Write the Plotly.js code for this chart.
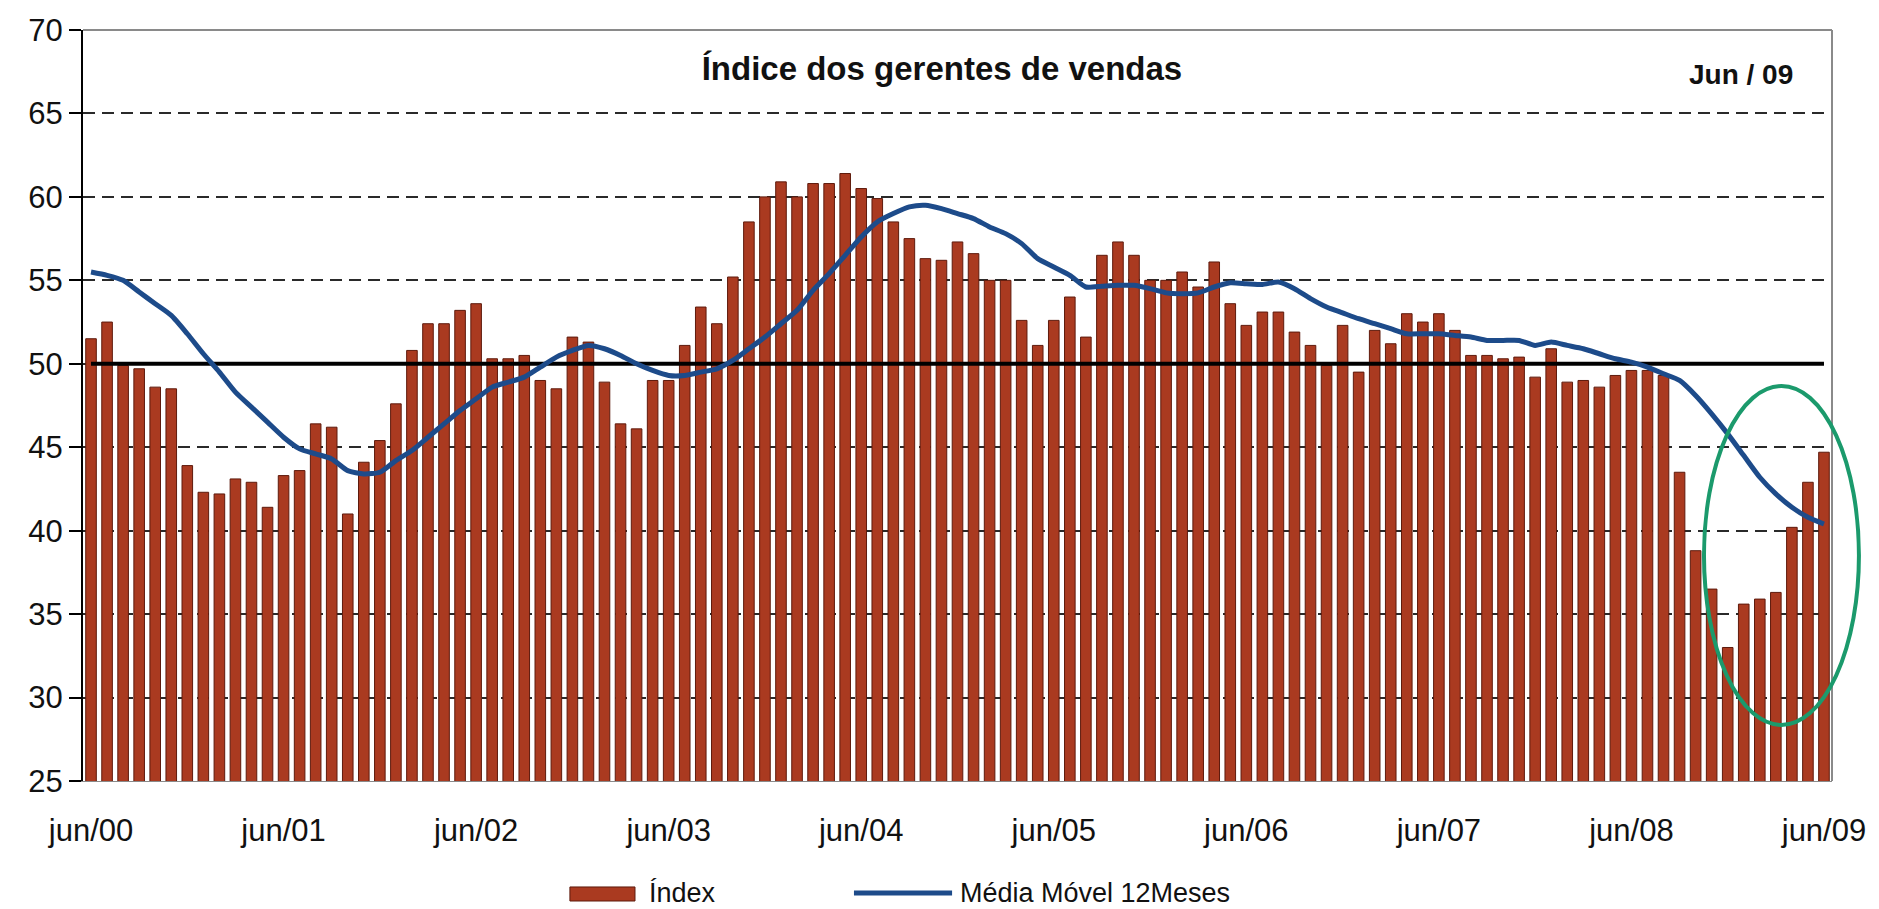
<!DOCTYPE html>
<html>
<head>
<meta charset="utf-8">
<script src="https://cdn.plot.ly/plotly-3.0.1.min.js"></script>
<style>
  html, body { margin: 0; padding: 0; background: #ffffff; }
  #chart { width: 1879px; height: 909px; }
</style>
</head>
<body>
<div id="chart"></div>
<script>
// ---- Data ----
const monthNames = ["jun","jul","ago","set","out","nov","dez","jan","fev","mar","abr","mai"];
const startYear = 2000;
const nMonths = 109;

// Month categories jun/00 ... jun/09
const categories = [];
for (let i = 0; i < nMonths; i++) {
  const m = monthNames[i % 12];
  const yr = startYear + Math.floor((i + 5) / 12);
  categories.push(m + "/" + String(yr % 100).padStart(2, "0"));
}

const tickLabels = ["jun/00","jun/01","jun/02","jun/03","jun/04","jun/05","jun/06","jun/07","jun/08","jun/09"];

// Index (bars)
const indexValues = [
  51.5,52.5,49.9,49.7,48.6,48.5,43.9,42.3,42.2,43.1,42.9,41.4,
  43.3,43.6,46.4,46.2,41.0,44.1,45.4,47.6,50.8,52.4,52.4,53.2,
  53.6,50.3,50.3,50.5,49.0,48.5,51.6,51.3,48.9,46.4,46.1,49.0,
  49.0,51.1,53.4,52.4,55.2,58.5,60.0,60.9,60.0,60.8,60.8,61.4,
  60.5,59.9,58.5,57.5,56.3,56.2,57.3,56.6,55.0,55.0,52.6,51.1,
  52.6,54.0,51.6,56.5,57.3,56.5,55.0,55.0,55.5,54.6,56.1,53.6,
  52.3,53.1,53.1,51.9,51.1,49.9,52.3,49.5,52.0,51.2,53.0,52.5,
  53.0,52.0,50.5,50.5,50.3,50.4,49.2,50.9,48.9,49.0,48.6,49.3,
  49.6,49.6,49.3,43.5,38.8,36.5,33.0,35.6,35.9,36.3,40.2,42.9,
  44.7
];

// Média Móvel 12 Meses (line)
const movingAverage = [
  55.5,55.3,55.0,54.3,53.6,52.9,51.8,50.6,49.5,48.3,47.4,46.5,
  45.6,44.9,44.6,44.3,43.6,43.4,43.5,44.2,44.8,45.6,46.4,47.2,
  47.9,48.6,48.9,49.2,49.8,50.4,50.8,51.1,50.9,50.5,50.0,49.6,
  49.3,49.3,49.5,49.7,50.2,50.9,51.6,52.4,53.2,54.4,55.4,56.5,
  57.6,58.5,59.0,59.4,59.5,59.3,59.0,58.7,58.2,57.8,57.2,56.3,
  55.8,55.3,54.6,54.65,54.7,54.7,54.5,54.25,54.2,54.25,54.6,54.85,
  54.8,54.75,54.9,54.5,53.9,53.4,53.05,52.7,52.4,52.1,51.8,51.8,
  51.8,51.7,51.6,51.4,51.4,51.4,51.1,51.3,51.1,50.9,50.6,50.3,
  50.1,49.8,49.4,49.0,48.1,47.0,45.8,44.5,43.2,42.2,41.4,40.8,
  40.4
];

const referenceLevel = [50, 50];
const seriesNames = ["Índex", "Média Móvel 12Meses"];
const chartTitle = "Índice dos gerentes de vendas";
const dateNote = "Jun / 09";

// ---- Traces ----
const tickVals = categories.filter((c, i) => i % 12 === 0);

const traceBars = {
  type: "bar",
  x: categories,
  y: indexValues,
  name: seriesNames[0],
  marker: { color: "#aa3a20", line: { color: "#5e1a0c", width: 1 } },
  showlegend: false,
  hoverinfo: "x+y"
};

const traceRef = {
  type: "scatter",
  mode: "lines",
  x: [categories[0], categories[categories.length - 1]],
  y: referenceLevel,
  line: { color: "#000000", width: 4 },
  showlegend: false,
  hoverinfo: "skip"
};

const traceMA = {
  type: "scatter",
  mode: "lines",
  x: categories,
  y: movingAverage,
  name: seriesNames[1],
  line: { color: "#1d4b8a", width: 5, shape: "spline", smoothing: 0.6 },
  showlegend: false
};

const fontFam = "'Liberation Sans', Arial, Helvetica, sans-serif";

const layout = {
  width: 1879,
  height: 909,
  margin: { l: 83, r: 47, t: 30, b: 128 },
  paper_bgcolor: "#ffffff",
  plot_bgcolor: "#ffffff",
  bargap: 0.34,
  font: { family: fontFam, color: "#111111" },
  title: {
    text: chartTitle,
    font: { family: fontFam, size: 33, color: "#111111", weight: "bold" },
    x: 0.5013, xanchor: "center", xref: "container",
    y: 0.925, yanchor: "middle", yref: "container"
  },
  xaxis: {
    type: "category",
    range: [-0.5, categories.length - 0.5],
    tickmode: "array",
    tickvals: tickVals,
    ticktext: tickLabels,
    tickfont: { family: fontFam, size: 31, color: "#111111" },
    ticks: "",
    ticklabelstandoff: 22,
    showgrid: false,
    showline: true,
    linecolor: "#8a8a8a",
    linewidth: 1,
    zeroline: false,
    fixedrange: true
  },
  yaxis: {
    range: [25, 70],
    tickmode: "linear",
    tick0: 25,
    dtick: 5,
    tickfont: { family: fontFam, size: 31, color: "#111111" },
    ticks: "outside",
    ticklen: 12,
    tickwidth: 2,
    tickcolor: "#000000",
    showline: true,
    linecolor: "#000000",
    linewidth: 2,
    showgrid: true,
    gridcolor: "#2a2a2a",
    gridwidth: 2,
    griddash: "12px,7px",
    zeroline: false,
    fixedrange: true
  },
  shapes: [
    // plot frame (top and right)
    { type: "line", xref: "paper", yref: "paper", x0: 0, x1: 1, y0: 1, y1: 1,
      line: { color: "#8a8a8a", width: 2 }, layer: "above" },
    { type: "line", xref: "paper", yref: "paper", x0: 1, x1: 1, y0: 0, y1: 1,
      line: { color: "#8a8a8a", width: 2 }, layer: "above" },
    // green highlight ellipse
    { type: "circle", xref: "paper", yref: "paper",
      x0: 0.9268, x1: 1.0154, y0: 0.0746, y1: 0.526,
      line: { color: "#1b9a6c", width: 4 }, layer: "above" },
    // legend swatches
    { type: "rect", xref: "paper", yref: "paper",
      x0: 0.2784, x1: 0.3156, y0: -0.1598, y1: -0.1411,
      fillcolor: "#aa3a20", line: { color: "#5e1a0c", width: 1 } },
    { type: "line", xref: "paper", yref: "paper",
      x0: 0.4408, x1: 0.4969, y0: -0.1491, y1: -0.1491,
      line: { color: "#1d4b8a", width: 5 } }
  ],
  annotations: [
    { text: dateNote, xref: "paper", yref: "paper", x: 0.948, y: 0.9414,
      xanchor: "center", yanchor: "middle", showarrow: false,
      font: { family: fontFam, size: 28, color: "#111111", weight: "bold" } },
    { text: seriesNames[0], xref: "paper", yref: "paper", x: 0.3225, y: -0.1491,
      xanchor: "left", yanchor: "middle", showarrow: false,
      font: { family: fontFam, size: 27, color: "#111111" } },
    { text: seriesNames[1], xref: "paper", yref: "paper", x: 0.5003, y: -0.1491,
      xanchor: "left", yanchor: "middle", showarrow: false,
      font: { family: fontFam, size: 27, color: "#111111" } }
  ],
  showlegend: false
};

Plotly.newPlot("chart", [traceBars, traceRef, traceMA], layout, { displayModeBar: false, staticPlot: true });
</script>
</body>
</html>
